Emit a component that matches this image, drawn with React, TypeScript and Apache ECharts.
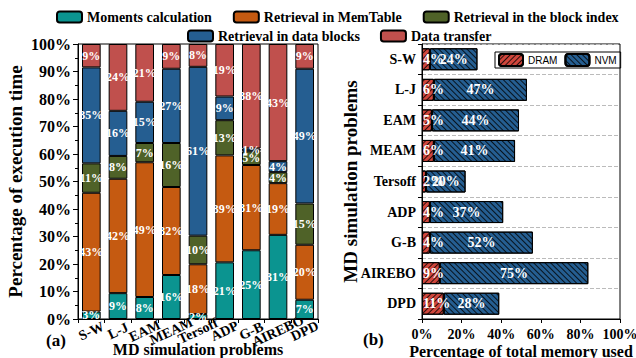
import React, { useEffect, useRef } from "react";
import * as echarts from "echarts";

const problems = ["S-W", "L-J", "EAM", "MEAM", "Tersoff", "ADP", "G-B", "AIREBO", "DPD"];
const moments = [2.7, 9.4, 8, 16, 1.8, 20.6, 25, 30.6, 7];
const memTable = [43.2, 41.6, 49, 32, 18.1, 38.9, 31, 18.8, 20];
const blockIndex = [10.7, 8.3, 7, 16, 10.4, 12.8, 5, 4, 15];
const dataBlocks = [34.9, 16.4, 15, 27, 61.4, 8.6, 1, 4, 49];
const dataTransfer = [8.5, 24.3, 21, 9, 8.3, 19.1, 38, 42.6, 9];

const dram = [4, 6, 5, 6, 2, 4, 4, 9, 11];
const nvm = [24, 47, 44, 41, 20, 37, 52, 75, 28];

const SERIF = "Liberation Serif";

export default function App() {
  const ref = useRef<HTMLDivElement>(null);
  useEffect(() => {
    if (!ref.current) return;
    const chart = echarts.init(ref.current, null, { renderer: "svg" });
    const barLabel = {
      show: true,
      position: "inside",
      color: "#fff",
      fontFamily: SERIF,
      fontWeight: "bold",
      fontSize: 12,
      formatter: (p: any) => Math.round(p.value) + "%",
    };
    const leftSeries = [
      { name: "Moments calculation", data: moments, color: "#0B9490" },
      { name: "Retrieval in MemTable", data: memTable, color: "#C55A11" },
      { name: "Retrieval in the block index", data: blockIndex, color: "#4F6228" },
      { name: "Retrieval in data blocks", data: dataBlocks, color: "#255E91" },
      { name: "Data transfer", data: dataTransfer, color: "#C0504D" },
    ].map((s) => ({
      type: "bar",
      name: s.name,
      data: s.data,
      stack: "a",
      xAxisIndex: 0,
      yAxisIndex: 0,
      barCategoryGap: "30%",
      itemStyle: { color: s.color, borderColor: "#000", borderWidth: 1 },
      label: barLabel,
    }));
    const rightLabel = {
      show: true,
      color: "#fff",
      fontFamily: SERIF,
      fontWeight: "bold",
      fontSize: 14,
      formatter: (p: any) => p.value + "%",
    };
    const legendText = { fontFamily: SERIF, fontWeight: "bold", fontSize: 14, color: "#000" };
    const axisNameStyle = { fontFamily: SERIF, fontWeight: "bold", color: "#000" };
    const option: any = {
      animation: false,
      legend: [
        {
          data: ["Moments calculation", "Retrieval in MemTable", "Retrieval in the block index"],
          left: 56,
          top: 10,
          itemWidth: 25,
          itemHeight: 11,
          itemGap: 21,
          padding: 0,
          textStyle: legendText,
        },
        {
          data: ["Retrieval in data blocks", "Data transfer"],
          left: 187,
          top: 29,
          itemWidth: 25,
          itemHeight: 11,
          itemGap: 20,
          padding: 0,
          textStyle: legendText,
        },
        {
          data: ["DRAM", "NVM"],
          left: 495,
          top: 52,
          itemWidth: 24,
          itemHeight: 12,
          itemGap: 7,
          padding: [1, 4, 1, 3],
          borderColor: "#000",
          borderWidth: 1,
          borderRadius: 0,
          textStyle: { fontFamily: "Liberation Sans", fontSize: 10, color: "#000" },
        },
      ],
      grid: [
        { left: 78, top: 44, width: 240, height: 275, show: true, borderColor: "#000", borderWidth: 1, outerBoundsMode: "none", containLabel: false },
        { left: 422, top: 44, width: 198, height: 275, show: true, borderColor: "#000", borderWidth: 1, outerBoundsMode: "none", containLabel: false },
      ],
      xAxis: [
        {
          type: "category",
          gridIndex: 0,
          data: problems,
          axisLine: { lineStyle: { color: "#000", width: 1 } },
          axisTick: { show: true, length: 4, lineStyle: { color: "#000" } },
          axisLabel: {
            interval: 0,
            rotate: 25,
            align: "center",
            verticalAlign: "middle",
            margin: 12,
            fontFamily: SERIF,
            fontWeight: "bold",
            fontSize: 14,
            color: "#000",
          },
          name: "MD simulation problems",
          nameLocation: "middle",
          nameGap: 22,
          nameMoveOverlap: false,
          nameTextStyle: { ...axisNameStyle, fontSize: 16 },
        },
        {
          type: "value",
          gridIndex: 1,
          min: 0,
          max: 100,
          interval: 20,
          axisLine: { show: true, lineStyle: { color: "#000" } },
          axisTick: { show: true, length: 4, lineStyle: { color: "#000" } },
          splitLine: { show: false },
          axisLabel: {
            formatter: "{value}%",
            margin: 8,
            fontFamily: SERIF,
            fontWeight: "bold",
            fontSize: 14,
            color: "#000",
          },
          name: "Percentage of total memory used",
          nameLocation: "middle",
          nameGap: 24,
          nameMoveOverlap: false,
          nameTextStyle: { ...axisNameStyle, fontSize: 16 },
        },
      ],
      yAxis: [
        {
          type: "value",
          gridIndex: 0,
          min: 0,
          max: 100,
          interval: 10,
          axisLine: { show: true, lineStyle: { color: "#000" } },
          axisTick: { show: true, length: 5, lineStyle: { color: "#000" } },
          minorTick: { show: true, splitNumber: 2, length: 3, lineStyle: { color: "#000" } },
          splitLine: { show: false },
          axisLabel: {
            formatter: "{value}%",
            margin: 7,
            fontFamily: SERIF,
            fontWeight: "bold",
            fontSize: 16,
            color: "#000",
          },
          name: "Percentage of execution time",
          nameLocation: "middle",
          nameGap: 53,
          nameMoveOverlap: false,
          nameTextStyle: { ...axisNameStyle, fontSize: 19 },
        },
        {
          type: "category",
          gridIndex: 1,
          data: problems,
          inverse: true,
          axisLine: { lineStyle: { color: "#000" } },
          axisTick: { show: true, length: 4, lineStyle: { color: "#000" } },
          splitLine: { show: true, lineStyle: { color: "#bbb", type: "dashed", width: 1 } },
          axisLabel: {
            interval: 0,
            margin: 6,
            fontFamily: SERIF,
            fontWeight: "bold",
            fontSize: 14,
            color: "#000",
          },
          name: "MD simulation problems",
          nameLocation: "middle",
          nameGap: 62,
          nameMoveOverlap: false,
          nameTextStyle: { ...axisNameStyle, fontSize: 19 },
        },
      ],
      graphic: [
        { type: "text", left: 46, top: 332, style: { text: "(a)", font: `bold 17px "${SERIF}"`, fill: "#000" } },
        { type: "text", left: 363, top: 331, style: { text: "(b)", font: `bold 17px "${SERIF}"`, fill: "#000" } },
      ],
      series: [
        ...leftSeries,
        {
          type: "bar",
          name: "DRAM",
          data: dram,
          stack: "m",
          xAxisIndex: 1,
          yAxisIndex: 1,
          barCategoryGap: "28%",
          itemStyle: {
            color: "#D0463C",
            borderColor: "#000",
            borderWidth: 1,
            decal: {
              symbol: "rect",
              symbolSize: 1,
              dashArrayX: [1, 0],
              dashArrayY: [1, 3],
              rotation: -Math.PI / 4,
              color: "rgba(0,0,0,0.8)",
            },
          },
          label: { ...rightLabel, position: "insideLeft", distance: 1 },
        },
        {
          type: "bar",
          name: "NVM",
          data: nvm,
          stack: "m",
          xAxisIndex: 1,
          yAxisIndex: 1,
          barCategoryGap: "28%",
          itemStyle: {
            color: "#255E91",
            borderColor: "#000",
            borderWidth: 1,
            decal: {
              symbol: "rect",
              symbolSize: 1,
              dashArrayX: [1, 0],
              dashArrayY: [1, 3],
              rotation: Math.PI / 4,
              color: "rgba(0,0,0,0.8)",
            },
          },
          label: { ...rightLabel, position: "inside" },
        },
      ],
    };
    chart.setOption(option);
    return () => chart.dispose();
  }, []);
  return <div ref={ref} style={{ width: 636, height: 358, position: "absolute", left: 0, top: 0 }} />;
}
